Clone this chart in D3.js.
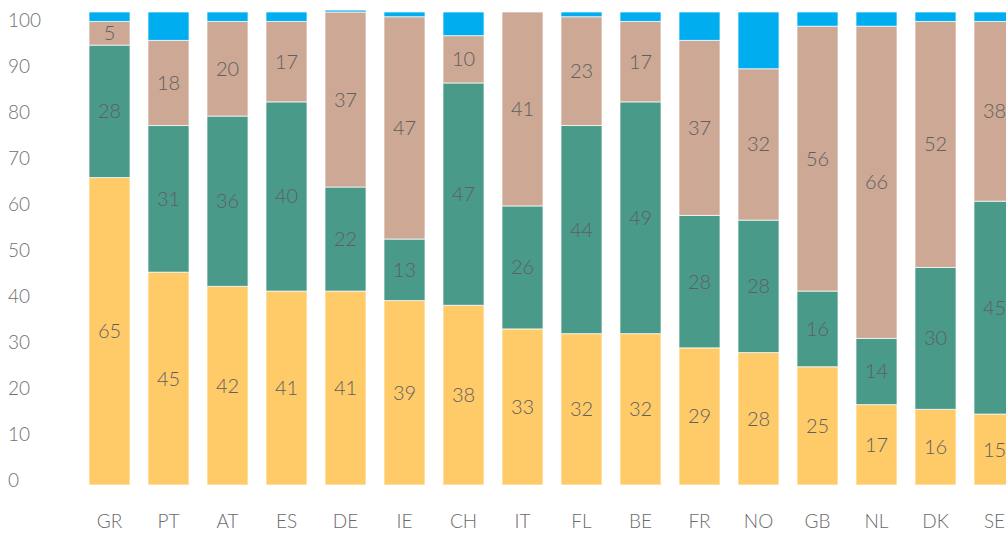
<!DOCTYPE html>
<html>
<head>
<meta charset="utf-8">
<script src="https://cdn.jsdelivr.net/npm/d3@7"></script>
<style>
  html, body { margin: 0; padding: 0; background: #fff; }
  svg { display: block; font-family: Lato, "Open Sans", sans-serif; font-weight: 300; }
</style>
</head>
<body>
<svg id="chart" width="1006" height="533"></svg>
<script>
// Country codes along the x axis
const countries = ["GR", "PT", "AT", "ES", "DE", "IE", "CH", "IT", "FL", "BE", "FR", "NO", "GB", "NL", "DK", "SE"];

// Stacked shares (bottom to top)
const yellowValues = [65, 45, 42, 41, 41, 39, 38, 33, 32, 32, 29, 28, 25, 17, 16, 15];
const tealValues   = [28, 31, 36, 40, 22, 13, 47, 26, 44, 49, 28, 28, 16, 14, 30, 45];
const tanValues    = [5, 18, 20, 17, 37, 47, 10, 41, 23, 17, 37, 32, 56, 66, 52, 38];
const blueValues   = [2, 6, 2, 2, 0.4, 1, 5, 0, 1, 2, 6, 12, 3, 3, 2, 2];

// Y axis tick labels
const yTicks = [0, 10, 20, 30, 40, 50, 60, 70, 80, 90, 100];

const keys = ["yellow", "teal", "tan", "blue"];
const colors = { yellow: "#FFCB69", teal: "#4A9A89", tan: "#CCA895", blue: "#00AEEF" };
const labelled = new Set(["yellow", "teal", "tan"]);

const rows = countries.map((c, i) => ({
  country: c,
  yellow: yellowValues[i],
  teal: tealValues[i],
  tan: tanValues[i],
  blue: blueValues[i]
}));

const svg = d3.select("#chart");

const x = d3.scaleBand()
  .domain(countries)
  .range([80, 1024])
  .paddingInner(0.305)
  .paddingOuter(0.1525);

const y = d3.scaleLinear().domain([0, 100]).range([485, 12]);

// Tick label scale for the left-hand value labels
const yLabel = d3.scaleLinear().domain([0, 100]).range([480, 20]);

const series = d3.stack().keys(keys)(rows);

const layers = svg.append("g")
  .selectAll("g")
  .data(series)
  .join("g")
  .attr("fill", d => colors[d.key]);

layers.selectAll("rect")
  .data(d => d.map(p => Object.assign(p, { key: d.key })))
  .join("rect")
  .attr("x", d => x(d.data.country))
  .attr("width", x.bandwidth())
  .attr("y", d => y(d[1]))
  .attr("height", d => Math.max(0, y(d[0]) - y(d[1])))
  .attr("stroke", "#ffffff")
  .attr("stroke-opacity", 0.7)
  .attr("stroke-width", 1);

// Segment value labels
const labels = svg.append("g")
  .attr("fill", "#5f5f5f")
  .attr("font-size", 20)
  .attr("text-anchor", "middle");

series.filter(s => labelled.has(s.key)).forEach(s => {
  labels.selectAll(null)
    .data(s)
    .join("text")
    .attr("x", d => x(d.data.country) + x.bandwidth() / 2)
    .attr("y", d => (y(d[0]) + y(d[1])) / 2)
    .attr("dy", "0.35em")
    .text(d => d.data[s.key]);
});

// Left value axis
const yAxis = svg.append("g")
  .attr("transform", "translate(8,0)")
  .call(d3.axisRight(yLabel).tickValues(yTicks).tickSize(0).tickPadding(0));
yAxis.select(".domain").remove();
yAxis.selectAll("text")
  .attr("fill", "#707070")
  .attr("font-size", 19)
  .attr("font-family", "Lato, 'Open Sans', sans-serif")
  .attr("font-weight", 300);

// Bottom category axis
const xAxis = svg.append("g")
  .attr("transform", "translate(0,514)")
  .call(d3.axisBottom(x).tickSize(0).tickPadding(0));
xAxis.select(".domain").remove();
xAxis.selectAll("text")
  .attr("fill", "#6a6a6a")
  .attr("font-size", 19)
  .attr("font-family", "Lato, 'Open Sans', sans-serif")
  .attr("font-weight", 300);
</script>
</body>
</html>
